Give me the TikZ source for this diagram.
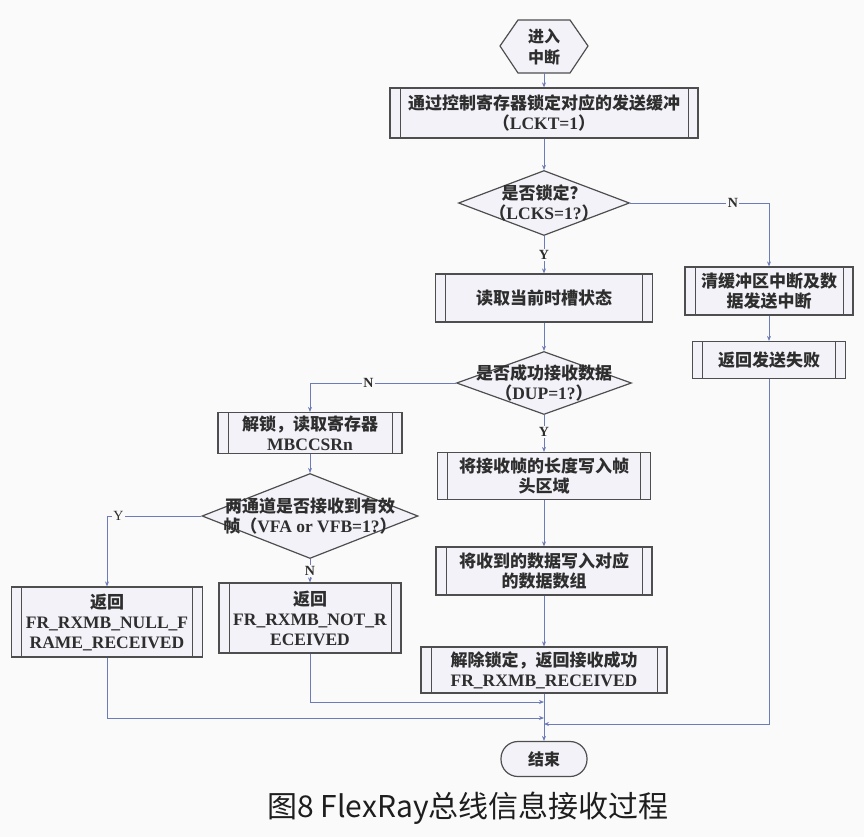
\documentclass[tikz,border=0pt]{standalone}
\usepackage{fontspec}
\setmainfont{Liberation Serif}
\newfontfamily\cjk{Noto Sans CJK SC}
\usetikzlibrary{arrows.meta,shapes.geometric}
\definecolor{bg}{HTML}{FAFAFA}
\definecolor{ln}{HTML}{6B7CB8}
\definecolor{bd}{HTML}{4E4E4E}
\definecolor{bx}{HTML}{F3F2F8}
\definecolor{tx}{HTML}{2E2E2E}
\definecolor{capc}{HTML}{1E1E1E}
\newcommand{\zh}[1]{{\cjk\bfseries #1}}
\newcommand{\en}[1]{{\fontsize{17.5}{20}\selectfont\bfseries #1}}
\tikzset{
  subbox/.style={draw=bd, line width=1.2pt, fill=bx, inner sep=0pt, align=center, text=tx,
    font=\fontsize{17}{20}\selectfont,
    path picture={\draw[bd, line width=1pt]
      ([xshift=10pt]path picture bounding box.north west) -- ([xshift=10pt]path picture bounding box.south west)
      ([xshift=-10pt]path picture bounding box.north east) -- ([xshift=-10pt]path picture bounding box.south east);}},
  decbox/.style={diamond, draw=bd, line width=1.2pt, fill=bx, inner sep=0pt},
  dtext/.style={align=center, text=tx, font=\fontsize{17}{20}\selectfont, inner sep=0pt},
  conn/.style={draw=ln, line width=0.9pt, -{Stealth[length=5pt,width=4pt]}},
  lab/.style={fill=bg, inner sep=1.5pt, text=tx, font=\fontsize{14}{14}\selectfont\bfseries},
}
\begin{document}
\begin{tikzpicture}[x=1pt,y=-1pt]
\fill[bg] (0,0) rectangle (864,837);
\useasboundingbox (0,0) rectangle (864,837);

% start hexagon
\draw[bd, line width=1.2pt, fill=bx] (500,46) -- (518,20) -- (570,20) -- (588,46) -- (570,73) -- (518,73) -- cycle;
\node[dtext, minimum width=88pt, minimum height=53pt, font=\fontsize{16}{21}\selectfont] (start) at (544,46.5) {\zh{进入}\\\zh{中断}};

\node[subbox, minimum width=308pt, minimum height=50pt] (box1) at (544,113)
  {\zh{通过控制寄存器锁定对应的发送缓冲}\\\zh{（}\en{LCKT=1}\zh{）}};

\node[decbox, minimum width=171pt, minimum height=65pt] (dia1) at (544,203) {};
\node[dtext] (dia1t) at (dia1) {\zh{是否锁定？}\\\zh{（}\en{LCKS=1?}\zh{）}};

\node[subbox, minimum width=217pt, minimum height=48pt] (box2) at (544,298) {\zh{读取当前时槽状态}};

\node[decbox, minimum width=175pt, minimum height=63pt] (dia2) at (544,383) {};
\node[dtext] (dia2t) at (dia2) {\zh{是否成功接收数据}\\\zh{（}\en{DUP=1?}\zh{）}};

\node[subbox, minimum width=213pt, minimum height=47pt] (box4) at (544,476)
  {\zh{将接收帧的长度写入帧}\\\zh{头区域}};

\node[subbox, minimum width=216pt, minimum height=48pt] (box7) at (544,571)
  {\zh{将收到的数据写入对应}\\\zh{的数据数组}};

\node[subbox, minimum width=246pt, minimum height=46pt] (box8) at (544,670)
  {\zh{解除锁定，返回接收成功}\\\en{FR\_RXMB\_RECEIVED}};

\node[draw=bd, line width=1.2pt, fill=bx, rounded corners=17pt, minimum width=86pt, minimum height=35pt,
  text=tx, font=\fontsize{16}{18}\selectfont] (stop) at (544,759) {\zh{结束}};

% right column
\node[subbox, minimum width=168pt, minimum height=48pt] (box9) at (769,291)
  {\zh{清缓冲区中断及数}\\\zh{据发送中断}};
\node[subbox, minimum width=153pt, minimum height=37pt] (box10) at (769,360) {\zh{返回发送失败}};

% left column
\node[subbox, minimum width=184pt, minimum height=41pt] (box3) at (310,433)
  {\zh{解锁，读取寄存器}\\\en{MBCCSRn}};

\node[decbox, minimum width=216pt, minimum height=85pt] (dia3) at (310,516) {};
\node[dtext] (dia3t) at (dia3) {\zh{两通道是否接收到有效}\\\zh{帧（}\en{VFA or VFB=1?}\zh{）}};

\node[subbox, minimum width=191pt, minimum height=70pt] (box5) at (107,622)
  {\zh{返回}\\\en{FR\_RXMB\_NULL\_F}\\\en{RAME\_RECEIVED}};
\node[subbox, minimum width=182pt, minimum height=70pt] (box6) at (310,618)
  {\zh{返回}\\\en{FR\_RXMB\_NOT\_R}\\\en{ECEIVED}};

\coordinate (m1) at (544,702);
\coordinate (m2) at (544,718);
\coordinate (m3) at (544,724);

% connectors
\draw[conn] (start) -- (box1);
\draw[conn] (box1) -- (dia1);
\draw[conn] (dia1) -- node[lab]{Y} (box2);
\draw[conn] (dia1.east) -| node[lab,pos=.37]{N} (box9.north);
\draw[conn] (box9) -- (box10);
\draw[conn] (box2) -- (dia2);
\draw[conn] (dia2) -- node[lab,pos=.45]{Y} (box4);
\draw[conn] (dia2.west) -| node[lab,pos=.3]{N} (box3.north);
\draw[conn] (box3) -- (dia3);
\draw[conn] (dia3.west) -| node[lab,pos=.44,font=\fontsize{14}{14}\selectfont]{Y} (box5.north);
\draw[conn] (dia3) -- node[lab,pos=.5]{N} (box6);
\draw[conn] (box4) -- (box7);
\draw[conn] (box7) -- (box8);
\draw[conn] (box8) -- (stop);
\draw[conn] (box6.south) |- (m1);
\draw[conn] (box5.south) |- (m2);
\draw[conn] (box10.south) |- (m3);

% caption
\node[text=capc, font=\cjk\fontsize{30}{30}\selectfont] (cap) at (468,808) {图8 FlexRay总线信息接收过程};
\end{tikzpicture}
\end{document}
